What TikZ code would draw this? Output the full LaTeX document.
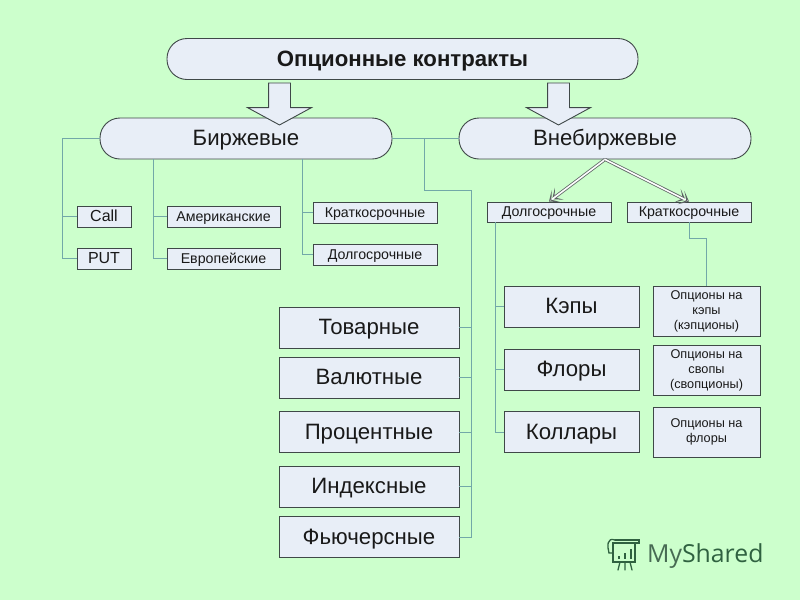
\documentclass[tikz,border=0pt]{standalone}
\usepackage{fontspec}
\setmainfont{Liberation Sans}
\newfontfamily\markfont{Open Sans}
\usetikzlibrary{arrows.meta, shapes.arrows, shadows}
\definecolor{pagegreen}{HTML}{CCFFCC}
\definecolor{boxfill}{HTML}{E8EEF7}
\definecolor{boxline}{HTML}{3F4848}
\definecolor{branchcol}{HTML}{72A8A8}
\definecolor{markcol}{HTML}{2F6140}
\tikzset{%
	every box/.style={
		draw=boxline,
		fill=boxfill,
		line width=.9pt,
		inner sep=0pt,
		align=center,
		text=black!90
	},
	shaded/.style={
		drop shadow={shadow xshift=.8pt, shadow yshift=-.8pt, fill=black, opacity=.3}
	},
	pill/.style={
		every box,
		text height=16pt,
		text depth=1.8pt,
		rounded corners=20pt,
		minimum width=292pt,
		minimum height=41pt,
		font=\fontsize{22.2}{24}\selectfont
	},
	small box/.style={
		every box,
		shaded,
		text height=10.2pt,
		text depth=1.1pt,
		minimum height=21pt,
		font=\fontsize{14.2}{16}\selectfont
	},
	tag box/.style={
		small box,
		text height=11.5pt,
		text depth=1.3pt,
		minimum width=54pt,
		font=\fontsize{16}{18}\selectfont
	},
	big box/.style={
		every box,
		shaded,
		text height=16pt,
		text depth=1.8pt,
		minimum width=135pt,
		minimum height=41pt,
		font=\fontsize{22.2}{24}\selectfont
	},
	note box/.style={
		every box,
		shaded,
		minimum width=107pt,
		minimum height=50pt,
		font=\fontsize{12.7}{15}\selectfont
	},
	block arrow/.style={
		single arrow,
		draw=boxline,
		fill=boxfill,
		line width=.9pt,
		rotate=-90,
		inner sep=0pt,
		outer sep=0pt,
		text height=21pt,
		text depth=0pt,
		minimum height=42pt,
		minimum width=63pt,
		single arrow head extend=21pt,
		single arrow tip angle=123
	},
	branch/.style={
		draw=branchcol,
		line width=1pt
	},
	thin arrow/.style={
		preaction={
			draw=boxline!85,
			line width=3.2pt,
			shorten >=4pt
		},
		draw=white,
		line width=1.6pt,
		-{Stealth[length=9pt,width=15pt,inset=6pt,color=boxline!85,fill=white,line width=.8pt]}
	},
}
\begin{document}
\begin{tikzpicture}[x=1pt,y=-1pt]
	\fill[pagegreen] (0,0) rectangle (800,600);
	% top level
	\node[pill, minimum width=471pt, font=\fontsize{22.2}{24}\selectfont\bfseries] (contracts) at (402.5,59) {Опционные контракты};
	\node[pill] (birzh) at (246,138.5) {Биржевые};
	\node[pill] (vneb) at (605,138.5) {Внебиржевые};
	\node[block arrow] (arrowL) at (279.5,101) {};
	\node[block arrow] (arrowR) at (558.5,101) {};
	% exchange side
	\node[tag box] (call) at (104,216.5) {Call};
	\node[tag box] (put) at (104,258.5) {PUT};
	\node[small box, minimum width=113pt] (amer) at (223.5,216.5) {Американские};
	\node[small box, minimum width=113pt] (evro) at (223.5,258.5) {Европейские};
	\node[small box, minimum width=124pt] (kratL) at (375,212.5) {Краткосрочные};
	\node[small box, minimum width=124pt] (dolgL) at (375,254.5) {Долгосрочные};
	\node[big box, minimum width=180pt] (tovar) at (369,327.5) {Товарные};
	\node[big box, minimum width=180pt] (valut) at (369,377.5) {Валютные};
	\node[big box, minimum width=180pt] (proc) at (369,432) {Процентные};
	\node[big box, minimum width=180pt] (index) at (369,486.5) {Индексные};
	\node[big box, minimum width=180pt] (futur) at (369,537) {Фьючерсные};
	% over the counter side
	\node[small box, minimum width=124pt, minimum height=20pt] (dolgR) at (549,212) {Долгосрочные};
	\node[small box, minimum width=124pt, minimum height=20pt] (kratR) at (689,212) {Краткосрочные};
	\node[big box] (kepy) at (571.5,306.5) {Кэпы};
	\node[big box] (flory) at (571.5,369.5) {Флоры};
	\node[big box] (kollar) at (571.5,432) {Коллары};
	\node[note box] (optA) at (706.5,311) {Опционы на\\кэпы\\(кэпционы)};
	\node[note box] (optB) at (706.5,370) {Опционы на\\свопы\\(свопционы)};
	\node[note box] (optC) at (706.5,432) {Опционы на\\флоры};
	% connectors
	\coordinate (trunkA) at (62,138.5);
	\coordinate (trunkB) at (153,159);
	\coordinate (trunkC) at (302,159);
	\coordinate (trunkD) at (424,138.5);
	\coordinate (trunkE) at (471,190);
	\coordinate (trunkF) at (495,222);
	\coordinate (bendG) at (706,238);
	\draw[branch] (birzh.west) -- (trunkA) |- (put.west);
	\draw[branch] (trunkA |- call.west) -- (call.west);
	\draw[branch] (trunkB) |- (evro.west);
	\draw[branch] (trunkB |- amer.west) -- (amer.west);
	\draw[branch] (trunkC) |- (dolgL.west);
	\draw[branch] (trunkC |- kratL.west) -- (kratL.west);
	\draw[branch] (birzh.east) -- (vneb.west);
	\draw[branch] (trunkD) |- (trunkE) |- (futur.east);
	\foreach \n in {tovar,valut,proc,index}
		\draw[branch] (\n.east) -- (\n.east -| trunkE);
	\draw[branch] (trunkF) |- (kollar.west);
	\foreach \n in {kepy,flory}
		\draw[branch] (trunkF |- \n.west) -- (\n.west);
	\draw[branch] (kratR.south) |- (bendG) -- (optA.north -| bendG);
	\draw[thin arrow] (vneb.south) -- (dolgR.north);
	\draw[thin arrow] (vneb.south) -- (kratR.north);
	% watermark
	\node[anchor=west, inner sep=0pt, text=markcol, font=\fontsize{24.8}{28}\markfont] (mark) at (647,556) {\textcolor{markcol!70!gray}{My}Shared};
	\begin{scope}[draw=markcol, line width=1.3pt, line cap=round]
		\draw (613,543) rectangle (635,562);
		\draw (615,540) -- (639,540) -- (639,543) -- (613,543);
		\draw (615,540) .. controls (607,537) and (607,546) .. (609,553) -- (613,553);
		\draw (620,562) -- (618,570) (625,562) -- (625,570) (630,562) -- (632,570);
		\draw[line width=2.4pt, line cap=butt] (619,556) -- (619,558.5) (625,553) -- (625,558.5) (631,549) -- (631,558.5);
	\end{scope}
\end{tikzpicture}
\end{document}
